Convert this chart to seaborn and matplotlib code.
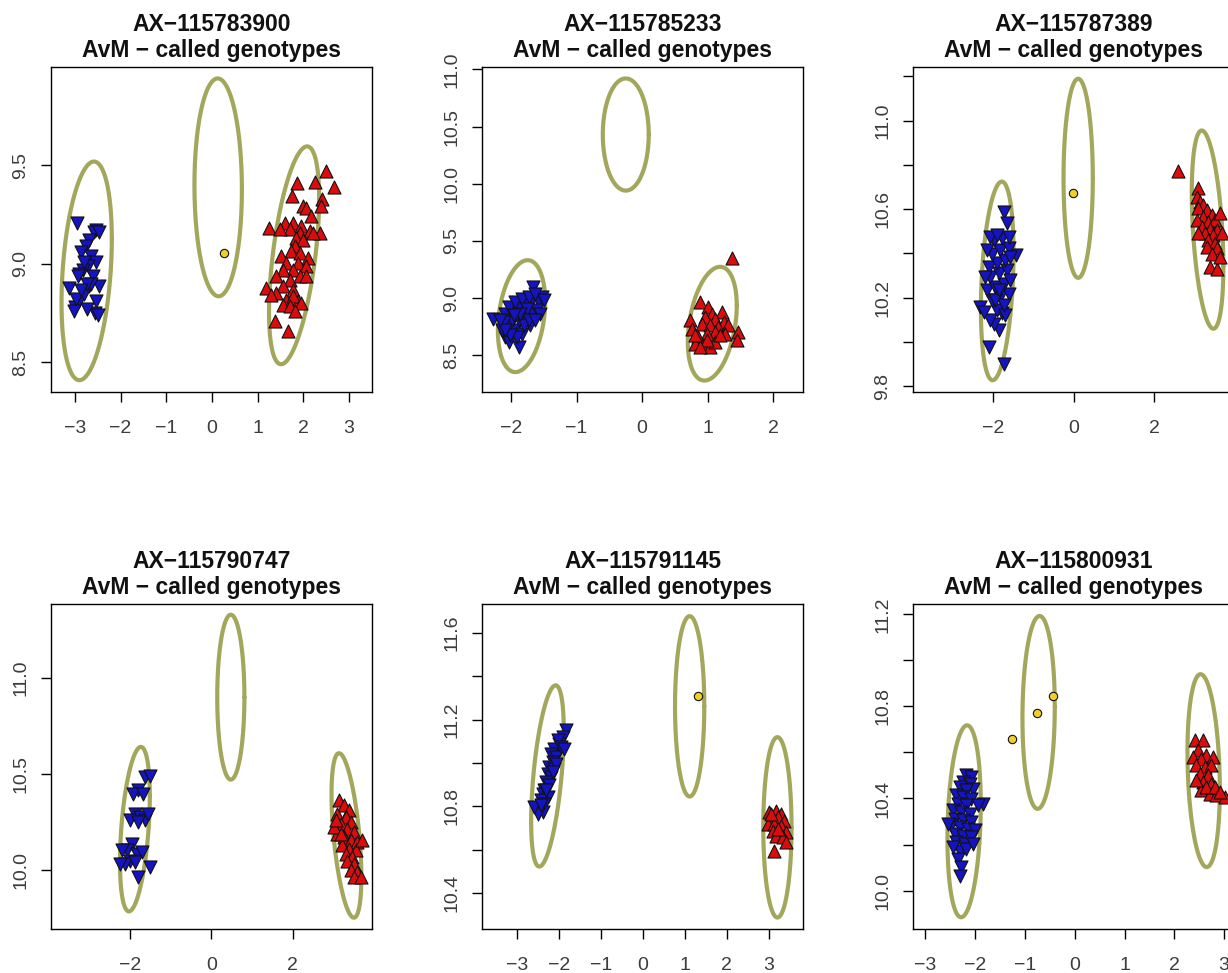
import numpy as np
import matplotlib
matplotlib.use("Agg")
import matplotlib.pyplot as plt
import seaborn as sns
import pandas as pd

sns.set_style("white")
plt.rcParams['font.family'] = ['Liberation Sans', 'DejaVu Sans']
plt.rcParams['axes.unicode_minus'] = True

TITLES = ["AX\u2212115783900", "AX\u2212115785233", "AX\u2212115787389",
          "AX\u2212115790747", "AX\u2212115791145", "AX\u2212115800931"]
SUBTITLE = "AvM \u2212 called genotypes"

# ---------------- Panel 1 ----------------
P1_BLUE_X = [-2.96, -3.12, -2.99, -2.90, -2.54, -2.58, -2.69, -2.76, -2.87, -2.65, -2.54, -2.72,
             -2.83, -2.90, -2.61, -2.47, -2.69, -2.80, -2.98, -2.54, -2.55, -2.74, -3.01, -2.50,
             -2.47, -2.80, -2.94, -2.65, -2.74, -2.87]
P1_BLUE_Y = [9.21, 8.88, 8.78, 8.81, 9.17, 9.16, 9.12, 9.09, 9.06, 9.04, 9.01, 8.99,
             8.97, 8.95, 8.94, 8.89, 8.89, 8.85, 8.82, 8.81, 8.75, 8.77, 8.76, 8.74,
             9.16, 9.01, 8.94, 8.90, 8.90, 8.87]
P1_RED_X = [2.504, 1.868, 2.249, 2.673, 1.759, 1.993, 2.417, 2.066, 2.175, 2.395, 1.247, 1.591,
            1.773, 1.956, 2.139, 2.358, 1.920, 1.700, 1.481, 1.846, 1.993, 1.810, 1.737, 1.920,
            1.518, 2.102, 1.627, 1.883, 1.773, 2.066, 1.554, 1.408, 1.700, 1.920, 1.174, 1.554,
            1.773, 1.408, 1.298, 1.627, 1.883, 1.773, 1.554, 1.700, 1.956, 1.371, 1.671, 1.810,
            2.066, 2.212]
P1_RED_Y = [9.471, 9.412, 9.415, 9.392, 9.344, 9.293, 9.331, 9.285, 9.242, 9.293, 9.183, 9.208,
            9.208, 9.192, 9.166, 9.158, 9.158, 9.175, 9.175, 9.132, 9.124, 9.090, 9.064, 9.056,
            9.039, 9.031, 9.005, 9.005, 8.971, 8.988, 8.971, 8.937, 8.920, 8.937, 8.878, 8.886,
            8.869, 8.853, 8.844, 8.819, 8.810, 8.836, 8.793, 8.785, 8.802, 8.708, 8.658, 8.759,
            8.937, 9.158]
P1_YEL_X = [0.253]
P1_YEL_Y = [9.056]
# ellipse: centre x, centre y, half x-extent, half y-extent, correlation
P1_ELL = [(-2.74, 8.965, 0.55, 0.555, 0.29), (0.136, 9.389, 0.519, 0.553, -0.02),
          (1.796, 9.044, 0.548, 0.553, 0.52)]

# ---------------- Panel 2 ----------------
P2_BLUE_X = [-2.274, -1.665, -2.086, -2.036, -1.883, -2.137, -2.036, -1.934, -1.832, -1.985,
             -1.883, -1.782, -1.680, -2.086, -1.985, -1.883, -1.782, -1.680, -1.579, -1.528,
             -1.604, -1.706, -1.807, -1.909, -2.010, -2.112, -2.036, -1.934, -1.832, -1.731,
             -1.629, -1.553, -1.756, -1.858, -1.959, -2.086, -2.162, -1.731, -1.629, -1.503]
P2_BLUE_Y = [8.821, 9.099, 8.661, 8.617, 8.573, 8.719, 8.748, 8.719, 8.690, 8.807,
             8.807, 8.836, 8.865, 8.865, 8.894, 8.923, 8.953, 8.982, 8.967, 9.011,
             8.894, 8.763, 8.763, 8.661, 8.675, 8.792, 8.923, 8.967, 8.996, 9.011,
             9.040, 8.865, 8.909, 8.865, 8.850, 8.719, 8.807, 8.807, 8.807, 8.982]
P2_RED_X = [1.376, 0.883, 0.731, 0.756, 1.010, 1.061, 1.213, 0.959, 1.112, 1.239, 0.909, 1.036,
            1.162, 1.315, 1.467, 1.442, 1.264, 1.112, 0.985, 0.858, 0.807, 0.934, 1.036, 1.112,
            0.985, 0.883, 1.188, 0.807]
P2_RED_Y = [9.347, 8.967, 8.807, 8.734, 8.923, 8.865, 8.880, 8.836, 8.821, 8.792, 8.777, 8.763,
            8.748, 8.763, 8.704, 8.631, 8.690, 8.704, 8.690, 8.661, 8.602, 8.588, 8.573, 8.617,
            8.631, 8.573, 8.675, 8.675]
P2_YEL_X = []
P2_YEL_Y = []
P2_ELL = [(-1.838, 8.843, 0.36, 0.489, 0.26), (-0.25, 10.43, 0.35, 0.49, 0.0),
          (1.068, 8.777, 0.373, 0.497, 0.32)]

# ---------------- Panel 3 ----------------
P3_BLUE_X = [-1.723, -1.656, -1.424, -2.319, -2.112, -1.739, -1.863, -1.988, -2.070, -1.781,
             -1.905, -1.698, -2.029, -1.822, -1.615, -2.153, -1.946, -1.739, -2.070, -1.863,
             -1.656, -2.112, -1.905, -1.698, -2.029, -1.822, -1.615, -1.988, -1.781, -1.615,
             -2.070, -1.905, -2.236, -1.573, -2.153, -1.573, -1.739, -1.946, -2.195, -1.863]
P3_BLUE_Y = [10.588, 10.535, 10.392, 10.158, 9.977, 9.901, 10.052, 10.082, 10.097, 10.128,
             10.143, 10.120, 10.188, 10.203, 10.218, 10.233, 10.248, 10.263, 10.294, 10.309,
             10.324, 10.339, 10.354, 10.369, 10.399, 10.414, 10.422, 10.460, 10.467, 10.475,
             10.475, 10.482, 10.135, 10.384, 10.414, 10.278, 10.165, 10.188, 10.294, 10.233]
P3_RED_X = [2.609, 3.106, 3.064, 3.147, 3.230, 3.106, 3.313, 3.437, 3.230, 3.064, 3.354, 3.520,
            3.188, 3.395, 3.561, 3.271, 3.478, 3.106, 3.354, 3.520, 3.561, 3.313, 3.437, 3.395,
            3.561, 3.644, 3.685, 3.644]
P3_RED_Y = [10.774, 10.694, 10.656, 10.633, 10.618, 10.603, 10.595, 10.573, 10.565, 10.550,
            10.543, 10.550, 10.520, 10.512, 10.505, 10.490, 10.482, 10.490, 10.460, 10.445,
            10.422, 10.429, 10.399, 10.339, 10.331, 10.580, 10.490, 10.384]
P3_YEL_X = [-0.017]
P3_YEL_Y = [10.674]
P3_ELL = [(-1.896, 10.275, 0.406, 0.449, 0.28), (0.116, 10.739, 0.364, 0.45, 0.0),
          (3.333, 10.507, 0.393, 0.448, -0.37)]

# ---------------- Panel 4 ----------------
P4_BLUE_X = [-1.633, -1.510, -1.796, -1.918, -1.673, -1.878, -2.000, -1.755, -1.633, -1.796,
             -1.959, -2.082, -1.837, -1.714, -2.000, -2.122, -1.878, -1.796, -2.245, -2.204,
             -1.551, -1.510]
P4_BLUE_Y = [10.484, 10.488, 10.414, 10.397, 10.397, 10.292, 10.257, 10.274, 10.257, 10.248,
             10.135, 10.100, 10.082, 10.091, 10.047, 10.030, 10.038, 9.960, 10.030, 10.100,
             10.292, 10.012]
P4_RED_X = [3.143, 3.265, 3.388, 3.102, 3.306, 3.429, 3.184, 3.347, 3.510, 3.102, 3.265, 3.429,
            3.592, 3.224, 3.388, 3.551, 3.306, 3.469, 3.347, 3.510, 3.429, 3.592, 3.510, 3.673,
            3.020, 3.714, 3.184, 3.061]
P4_RED_Y = [10.362, 10.336, 10.309, 10.292, 10.274, 10.248, 10.240, 10.213, 10.196, 10.187,
            10.170, 10.152, 10.143, 10.126, 10.108, 10.100, 10.082, 10.065, 10.047, 10.030,
            9.995, 9.986, 9.960, 9.960, 10.222, 10.152, 10.187, 10.257]
P4_YEL_X = []
P4_YEL_Y = []
P4_ELL = [(-1.878, 10.211, 0.367, 0.43, 0.40), (0.48, 10.901, 0.334, 0.431, 0.0),
          (3.322, 10.178, 0.367, 0.43, -0.50)]

# ---------------- Panel 5 ----------------
P5_BLUE_X = [-1.825, -1.905, -1.984, -2.024, -2.103, -2.183, -2.063, -2.143, -2.222, -2.103,
             -2.262, -2.183, -2.302, -2.222, -2.341, -2.381, -2.262, -2.421, -2.341, -2.460,
             -2.381, -2.500, -2.579, -2.024, -1.944, -2.063, -2.143, -2.302, -2.421, -1.865]
P5_BLUE_Y = [11.150, 11.119, 11.089, 11.058, 11.065, 11.042, 11.027, 11.004, 10.981, 10.973,
             10.950, 10.935, 10.911, 10.896, 10.873, 10.857, 10.842, 10.827, 10.811, 10.788,
             10.773, 10.765, 10.796, 11.104, 11.073, 10.996, 10.958, 10.873, 10.804, 11.065]
P5_RED_X = [3.016, 3.175, 3.294, 3.056, 3.214, 3.373, 2.976, 3.135, 3.294, 3.095, 3.254, 3.413,
            3.175, 3.333, 3.413, 3.119, 3.056, 3.214]
P5_RED_Y = [10.773, 10.780, 10.765, 10.742, 10.750, 10.734, 10.719, 10.719, 10.711, 10.688,
            10.688, 10.680, 10.665, 10.657, 10.634, 10.593, 10.765, 10.696]
P5_YEL_X = [1.31]
P5_YEL_Y = [11.307]
P5_ELL = [(-2.27, 10.94, 0.389, 0.418, 0.50), (1.119, 11.261, 0.349, 0.416, 0.0),
          (3.21, 10.703, 0.337, 0.416, 0.0)]

# ---------------- Panel 6 ----------------
P6_BLUE_X = [-2.176, -2.076, -2.243, -2.109, -2.042, -2.310, -2.176, -2.377, -2.243, -2.076,
             -1.841, -1.942, -2.344, -2.176, -2.444, -2.277, -2.109, -2.411, -2.243, -2.076,
             -2.478, -2.310, -2.143, -2.009, -2.411, -2.243, -2.076, -2.377, -2.210, -2.310,
             -2.176, -2.344, -2.277, -2.310, -2.444, -2.042, -2.545]
P6_BLUE_Y = [10.501, 10.493, 10.472, 10.464, 10.443, 10.450, 10.435, 10.414, 10.406, 10.399,
             10.377, 10.370, 10.377, 10.370, 10.348, 10.341, 10.334, 10.312, 10.305, 10.297,
             10.283, 10.276, 10.268, 10.261, 10.247, 10.239, 10.232, 10.210, 10.203, 10.174,
             10.181, 10.138, 10.102, 10.065, 10.189, 10.203, 10.290]
P6_RED_X = [2.412, 2.579, 2.479, 2.646, 2.780, 2.378, 2.546, 2.445, 2.613, 2.747, 2.512, 2.680,
            2.579, 2.747, 2.546, 2.713, 2.847, 3.015, 2.646, 2.445, 2.814, 2.914]
P6_RED_Y = [10.653, 10.653, 10.609, 10.588, 10.580, 10.580, 10.573, 10.544, 10.537, 10.544,
            10.508, 10.501, 10.472, 10.464, 10.435, 10.421, 10.414, 10.406, 10.450, 10.479,
            10.450, 10.428]
P6_YEL_X = [-1.259, -0.756, -0.435]
P6_YEL_Y = [10.659, 10.773, 10.844]
P6_ELL = [(-2.223, 10.301, 0.335, 0.417, 0.18), (-0.726, 10.774, 0.325, 0.419, 0.06),
          (2.59, 10.521, 0.325, 0.419, -0.19)]

# axis ranges and ticks
XLIMS = [(-3.52, 3.50), (-2.44, 2.45), (-3.99, 3.99), (-3.94, 3.95), (-3.83, 3.82), (-3.25, 3.20)]
YLIMS = [(8.35, 10.0), (8.18, 11.02), (9.773, 11.242), (9.689, 11.388), (10.234, 11.733), (9.833, 11.245)]
XTICKS = [[-3, -2, -1, 0, 1, 2, 3], [-2, -1, 0, 1, 2], [-2, 0, 2], [-2, 0, 2],
          [-3, -2, -1, 0, 1, 2, 3], [-3, -2, -1, 0, 1, 2, 3]]
YTICKS = [[8.5, 9.0, 9.5], [8.5, 9.0, 9.5, 10.0, 10.5, 11.0],
          [9.8, 10.0, 10.2, 10.4, 10.6, 10.8, 11.0, 11.2], [10.0, 10.5, 11.0],
          [10.4, 10.6, 10.8, 11.0, 11.2, 11.4, 11.6], [10.0, 10.2, 10.4, 10.6, 10.8, 11.0, 11.2]]
YLABELS = [["8.5", "9.0", "9.5"], ["8.5", "9.0", "9.5", "10.0", "10.5", "11.0"],
           ["9.8", "", "10.2", "", "10.6", "", "11.0", ""], ["10.0", "10.5", "11.0"],
           ["10.4", "", "10.8", "", "11.2", "", "11.6"], ["10.0", "", "10.4", "", "10.8", "", "11.2"]]

panels = [
    (P1_BLUE_X, P1_BLUE_Y, P1_RED_X, P1_RED_Y, P1_YEL_X, P1_YEL_Y, P1_ELL),
    (P2_BLUE_X, P2_BLUE_Y, P2_RED_X, P2_RED_Y, P2_YEL_X, P2_YEL_Y, P2_ELL),
    (P3_BLUE_X, P3_BLUE_Y, P3_RED_X, P3_RED_Y, P3_YEL_X, P3_YEL_Y, P3_ELL),
    (P4_BLUE_X, P4_BLUE_Y, P4_RED_X, P4_RED_Y, P4_YEL_X, P4_YEL_Y, P4_ELL),
    (P5_BLUE_X, P5_BLUE_Y, P5_RED_X, P5_RED_Y, P5_YEL_X, P5_YEL_Y, P5_ELL),
    (P6_BLUE_X, P6_BLUE_Y, P6_RED_X, P6_RED_Y, P6_YEL_X, P6_YEL_Y, P6_ELL),
]

W, H = 1228, 973
fig = plt.figure(figsize=(W / 100, H / 100), dpi=100)
fig.patch.set_facecolor("white")

LEFTS = [51, 482, 913]
TOPS = [67, 604]
AW, AH = 321, 325

ELL_COLOR = "#a3a75c"
BLUE = "#1414c0"
RED = "#dc0c0c"
YELLOW = "#f0d028"
TICK_COLOR = "#3c3c3c"

t = np.linspace(0, 2 * np.pi, 300)

for i, (bx, by, rx, ry, yx, yy, ells) in enumerate(panels):
    r, c = divmod(i, 3)
    left = LEFTS[c] / W
    bottom = 1 - (TOPS[r] + AH) / H
    ax = fig.add_axes([left, bottom, AW / W, AH / H])

    for (cx, cy, sx, sy, rho) in ells:
        ex = cx + sx * np.cos(t)
        ey = cy + sy * (rho * np.cos(t) + np.sqrt(1 - rho ** 2) * np.sin(t))
        sns.lineplot(x=ex, y=ey, sort=False, estimator=None, ax=ax,
                     color=ELL_COLOR, linewidth=3.0, zorder=2)

    sns.scatterplot(x=bx, y=by, ax=ax, marker="v", s=88, color=BLUE,
                    edgecolor="#111111", linewidth=0.8, zorder=3)
    sns.scatterplot(x=rx, y=ry, ax=ax, marker="^", s=88, color=RED,
                    edgecolor="#111111", linewidth=0.8, zorder=3)
    if len(yx):
        sns.scatterplot(x=yx, y=yy, ax=ax, marker="o", s=36, color=YELLOW,
                        edgecolor="#111111", linewidth=0.8, zorder=4)

    ax.set_xlim(*XLIMS[i])
    ax.set_ylim(*YLIMS[i])
    ax.set_xticks(XTICKS[i])
    ax.set_xticklabels([("\u2212" + str(abs(v))) if v < 0 else str(v) for v in XTICKS[i]])
    ax.set_yticks(YTICKS[i])
    ax.set_yticklabels(YLABELS[i], rotation=90, va="center")
    ax.tick_params(axis="both", which="major", direction="out", length=7.5, width=1.0,
                   color="black", labelsize=14, labelcolor=TICK_COLOR,
                   bottom=True, left=True, top=False, right=False)
    ax.tick_params(axis="x", pad=13)
    ax.tick_params(axis="y", pad=8)
    for sp in ax.spines.values():
        sp.set_visible(True)
        sp.set_color("black")
        sp.set_linewidth(1.0)
    ax.set_xlabel("")
    ax.set_ylabel("")
    ax.grid(False)
    ax.set_title(TITLES[i] + "\n" + SUBTITLE, fontsize=16.5, fontweight="bold",
                 pad=7.5, linespacing=1.12, color="#111111")

fig.savefig("out.png", dpi=100, facecolor="white")
